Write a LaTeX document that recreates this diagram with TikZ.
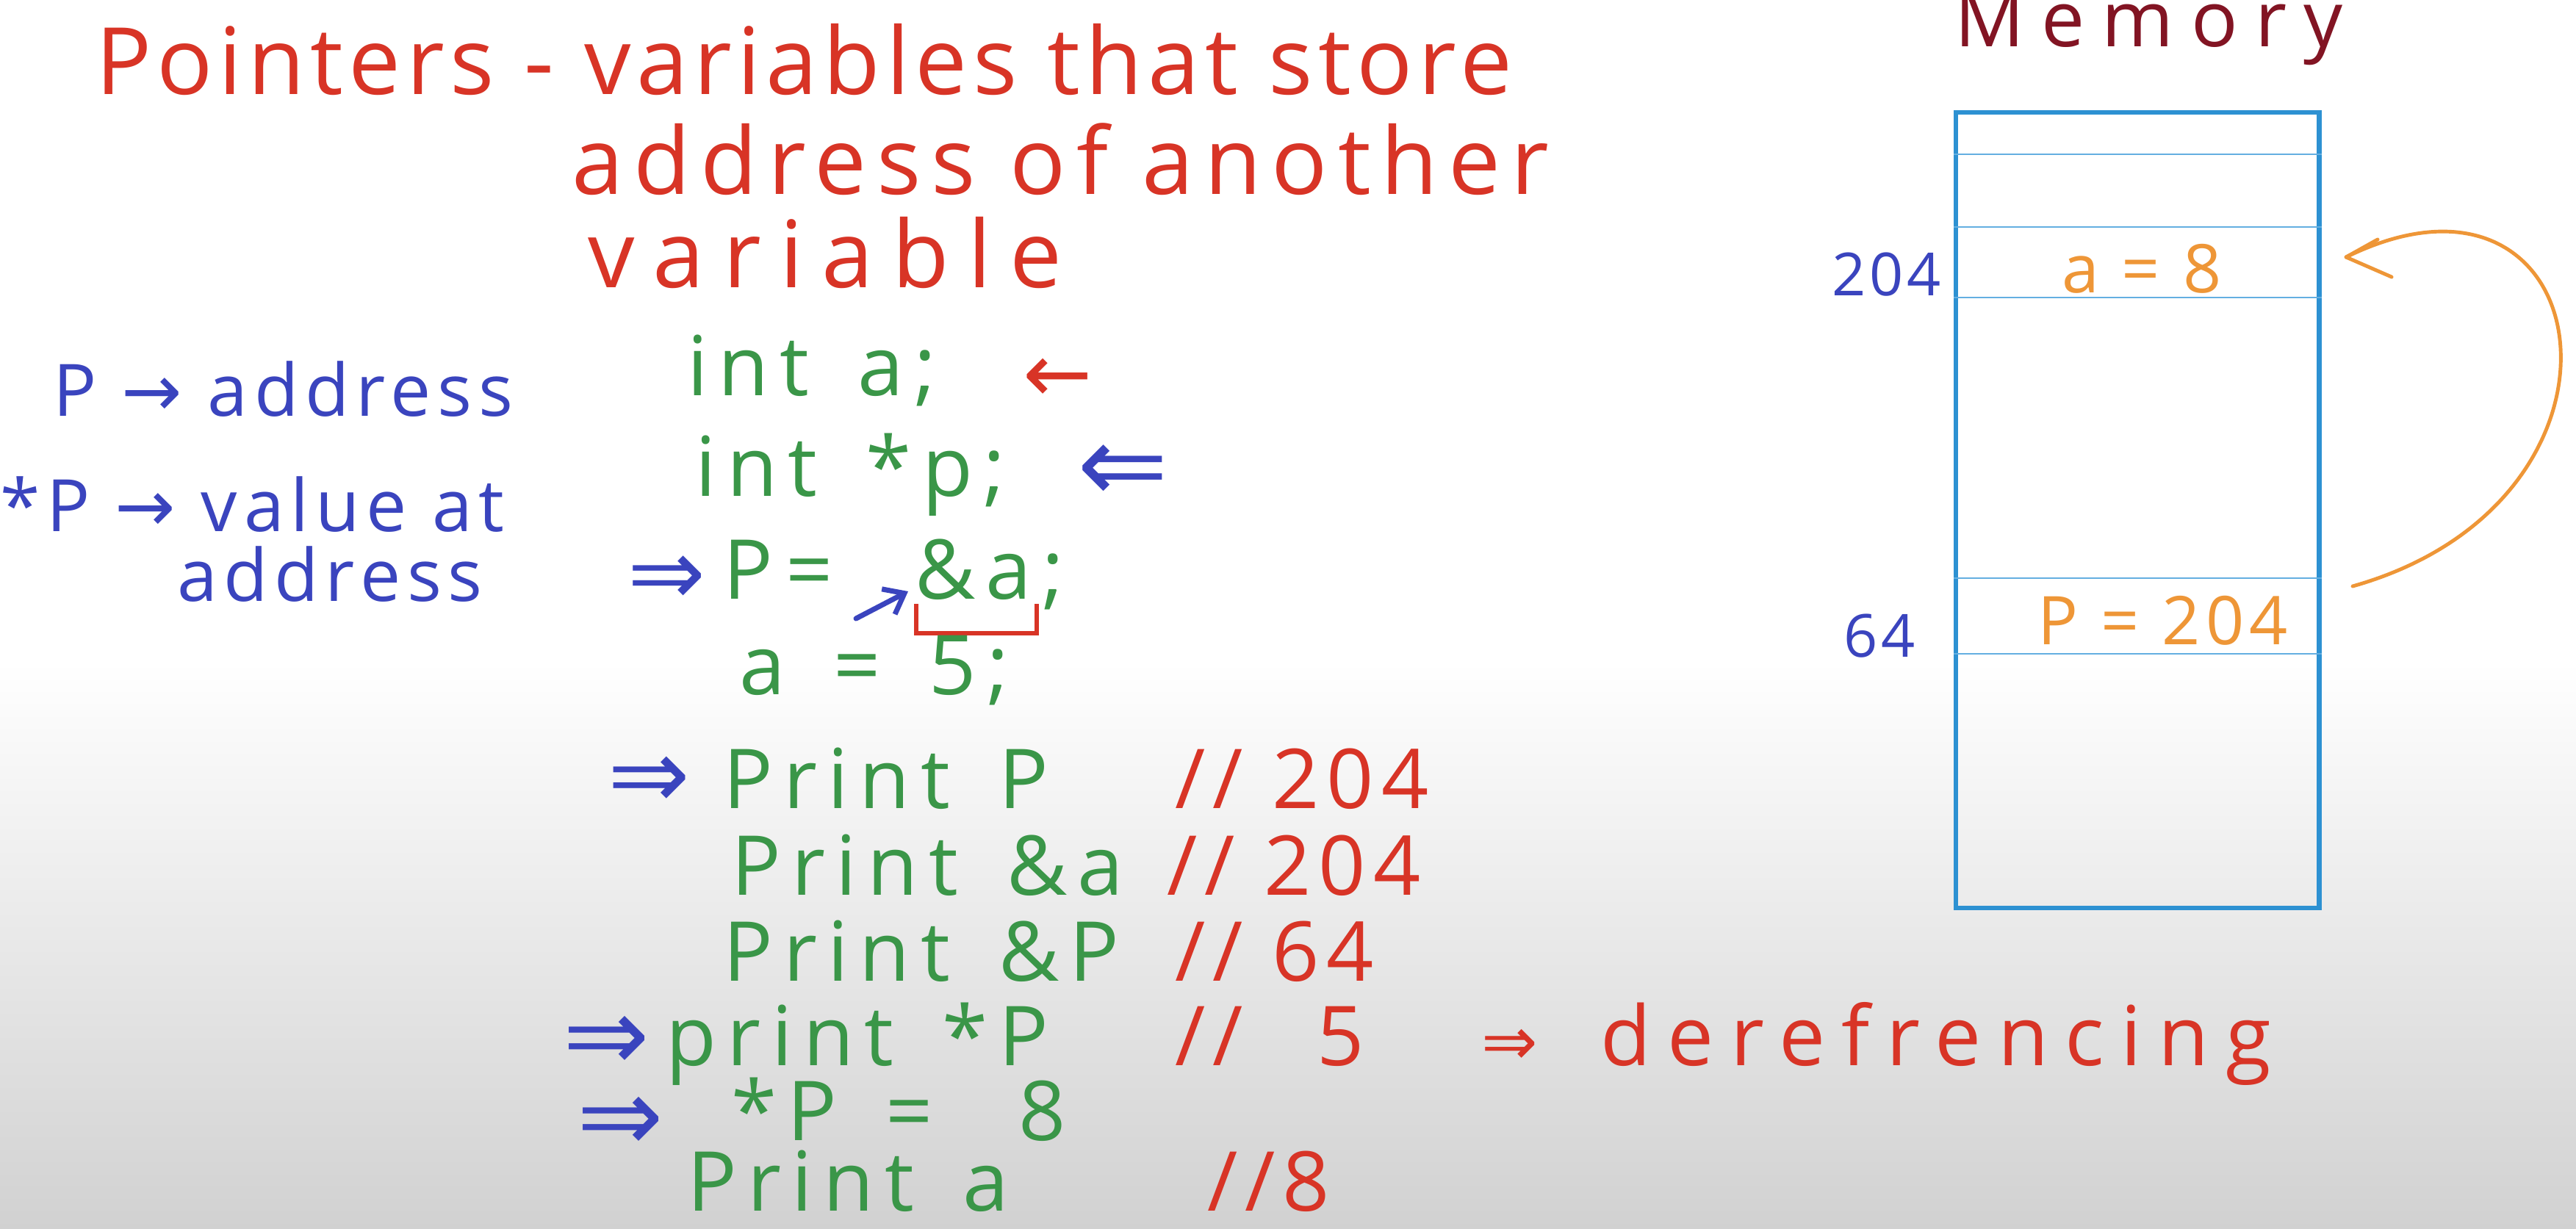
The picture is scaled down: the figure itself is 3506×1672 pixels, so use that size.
\documentclass[tikz,border=0pt]{standalone}
\usepackage{fontspec}
\usetikzlibrary{arrows.meta}
\newfontfamily\hand{Open Sans}
\newfontfamily\codefont{Open Sans}[LetterSpace=13,WordSpace=1.5]
\newfontfamily\sym{DejaVu Sans}
\definecolor{hred}{RGB}{216,52,38}
\definecolor{hgreen}{RGB}{58,150,72}
\definecolor{hblue}{RGB}{58,68,190}
\definecolor{horange}{RGB}{238,150,55}
\definecolor{hmaroon}{RGB}{130,20,35}
\definecolor{memblue}{RGB}{45,145,210}
\definecolor{cellblue}{RGB}{100,175,225}
\tikzset{
  txt/.style={anchor=base west, inner sep=0pt, outer sep=0pt},
  symb/.style={anchor=center, inner sep=0pt, outer sep=0pt},
  titletxt/.style={txt, text=hred, font=\hand\addfontfeatures{LetterSpace=#1}\fontsize{36}{40}\selectfont},
  lefttxt/.style={txt, text=hblue, font=\hand\addfontfeatures{LetterSpace=9}\fontsize{28}{32}\selectfont},
  codetxt/.style={txt, text=hgreen, font=\codefont\fontsize{32}{36}\selectfont},
  commtxt/.style={txt, text=hred, font=\hand\addfontfeatures{LetterSpace=9}\fontsize{32}{36}\selectfont},
  dereftxt/.style={txt, text=hred, font=\hand\addfontfeatures{LetterSpace=20}\fontsize{32}{36}\selectfont},
  memtitle/.style={txt, text=hmaroon, font=\hand\addfontfeatures{LetterSpace=22}\fontsize{30}{34}\selectfont},
  celltxt/.style={txt, text=horange, font=\hand\addfontfeatures{LetterSpace=8}\fontsize{26}{30}\selectfont},
  addrtxt/.style={txt, text=hblue, font=\hand\addfontfeatures{LetterSpace=6}\fontsize{23}{26}\selectfont},
  bluesym/.style={symb, text=hblue, font=\sym\fontsize{#1}{#1}\selectfont},
  redsym/.style={symb, text=hred, font=\sym\fontsize{#1}{#1}\selectfont},
  membox/.style={draw=memblue, line width=1.8pt, inner sep=0pt, minimum width=4.94cm, minimum height=10.82cm, anchor=north west},
  cellline/.style={draw=cellblue, line width=0.6pt},
  ptrline/.style={draw=horange, line width=1.4pt, line cap=round, line join=round},
}
\begin{document}
\begin{tikzpicture}[x=0.01cm, y=-0.01cm]
\fill[white] (0,0) rectangle (3506,1672);
\shade[top color=white, bottom color=black!18] (0,900) rectangle (3506,1672);
\useasboundingbox (0,0) rectangle (3506,1672);

% title
\node[titletxt=6] (t1) at (130,128) {Pointers - variables that store};
\node[titletxt=11] (t2) at (778,264) {address of another};
\node[titletxt=20] (t3) at (800,391) {variable};

% left notes
\node[lefttxt] (l1) at (72,566) {P {\sym→} address};
\node[lefttxt] (l2) at (0,723) {*P {\sym→} value at};
\node[lefttxt] (l3) at (241,818) {address};

% code
\node[codetxt] (c1) at (935,538) {int a;};
\node[redsym=32] (s1) at (1440,518) {←};
\node[codetxt] (c2) at (946,675) {int *p;};
\node[bluesym=42] (s2) at (1528,645) {⇐};
\node[bluesym=36] (s3) at (908,790) {⇒};
\node[codetxt] (c3a) at (984,815) {P\kern5pt=};
\node[codetxt] (c3b) at (1245,815) {\&a;};
\coordinate (sa) at (1165,842);
\coordinate (sb) at (1236,805);
\draw[hblue, line width=2pt, line cap=round, -{Straight Barb[length=7pt,width=11pt]}] (sa) -- (sb);
\coordinate (b1) at (1247,822);
\coordinate (b2) at (1411,862);
\draw[hred, line width=1.6pt] (b1) -- (b1 |- b2) -- (b2) -- (b2 |- b1);
\node[codetxt] (c4) at (1006,945) {a = 5;};

\node[bluesym=38] (s5) at (883,1065) {⇒};
\node[codetxt] (c5) at (984,1100) {Print P};
\node[commtxt] (r5) at (1599,1100) {// 204};
\node[codetxt] (c6) at (995,1218) {Print \&a};
\node[commtxt] (r6) at (1588,1218) {// 204};
\node[codetxt] (c7) at (984,1335) {Print \&P};
\node[commtxt] (r7) at (1599,1335) {// 64};
\node[bluesym=40] (s8) at (825,1420) {⇒};
\node[codetxt] (c8) at (906,1450) {print *P};
\node[commtxt] (r8) at (1599,1450) {//\hspace{0.9em}5};
\node[redsym=26] (s8r) at (2055,1425) {⇒};
\node[dereftxt] (d8) at (2178,1450) {derefrencing};
\node[bluesym=40] (s9) at (844,1530) {⇒};
\node[codetxt] (c9) at (995,1552) {*P =};
\node[codetxt] (c9b) at (1386,1552) {8};
\node[codetxt] (c10) at (935,1648) {Print a};
\node[commtxt] (r10) at (1643,1648) {//8};

% memory
\node[memtitle] (memt) at (2660,63) {Memory};
\node[membox] (mem) at (2659,150) {};
\foreach \yy in {210,309,405,787,890} {
  \draw[cellline] (mem.west |- 0,\yy) -- (mem.east |- 0,\yy);
}
\node[celltxt] (acell) at (2806,398) {a = 8};
\node[celltxt] (pcell) at (2773,877) {P = 204};
\node[addrtxt] (ad1) at (2493,402) {204};
\node[addrtxt] (ad2) at (2509,894) {64};
\coordinate (pfrom) at (3202,798);
\coordinate (ato) at (3193,350);
\coordinate (armup) at (3236,326);
\coordinate (armdn) at (3255,377);
\draw[ptrline] (pfrom) .. controls (3620,680) and (3540,180) .. (ato);
\draw[ptrline] (armup) -- (ato) -- (armdn);
\end{tikzpicture}
\end{document}
